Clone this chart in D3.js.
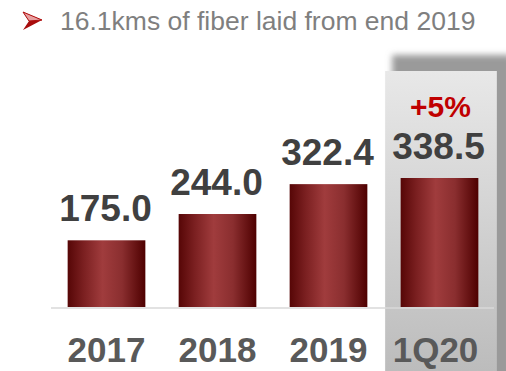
<!DOCTYPE html>
<html>
  <head>
    <meta charset="utf-8">
    <script src="https://d3js.org/d3.v7.min.js"></script>
    <style>
      body { margin: 0; background: #fff; }
      text { font-family: Arial, "Liberation Sans", sans-serif; }
    </style>
  </head>
  <body>
    <svg width="506" height="371"></svg>
    <script>
      // data
      var categories = ["2017", "2018", "2019", "1Q20"];
      var values = [175.0, 244.0, 322.4, 338.5];
      var valueLabels = ["175.0", "244.0", "322.4", "338.5"];
      var growthLabel = "+5%";
      var headline = "16.1kms of fiber laid from end 2019";

      var svg = d3.select("svg");
      var defs = svg.append("defs");

      // bar gradient, dark edges and lighter middle
      var bg = defs.append("linearGradient").attr("id", "barGrad")
        .attr("x1", "0%").attr("x2", "100%").attr("y1", "0%").attr("y2", "0%");
      bg.append("stop").attr("offset", "0%").attr("stop-color", "#560606");
      bg.append("stop").attr("offset", "20%").attr("stop-color", "#7a1f20");
      bg.append("stop").attr("offset", "45%").attr("stop-color", "#a03c3d");
      bg.append("stop").attr("offset", "70%").attr("stop-color", "#8a2e2f");
      bg.append("stop").attr("offset", "100%").attr("stop-color", "#4e0000");

      var pg = defs.append("linearGradient").attr("id", "panelGrad")
        .attr("x1", "0%").attr("x2", "0%").attr("y1", "0%").attr("y2", "100%");
      pg.append("stop").attr("offset", "0%").attr("stop-color", "#e8e8e8");
      pg.append("stop").attr("offset", "100%").attr("stop-color", "#bcbcbc");

      var blur = defs.append("filter").attr("id", "blur")
        .attr("x", "-20%").attr("y", "-20%").attr("width", "140%").attr("height", "140%");
      blur.append("feGaussianBlur").attr("stdDeviation", 3);

      var x = d3.scaleBand()
        .domain(categories)
        .range([51, 495])
        .paddingInner(0.3)
        .paddingOuter(0.15);

      var y = d3.scaleLinear()
        .domain([0, 338.5])
        .range([307, 178]);

      // headline with arrow bullet
      svg.append("path")
        .attr("d", "M23,12 L42,20 L23,30 L29,21 Z")
        .attr("fill", "#a80c0c");
      svg.append("path")
        .attr("d", "M23,12 L42,20 L29,21 Z")
        .attr("fill", "#e8a0a0")
        .attr("stroke", "#b01010").attr("stroke-width", 1);
      svg.append("text")
        .attr("x", 60).attr("y", 30)
        .attr("font-size", 26.5)
        .attr("fill", "#7f7f7f")
        .text(headline);

      // highlight panel for last category
      var last = categories[categories.length - 1];
      var px = x(last) - 15.5;
      var pw = x.bandwidth() + 34;
      svg.append("rect")
        .attr("x", px + 7).attr("y", 55)
        .attr("width", pw + 8).attr("height", 330)
        .attr("fill", "#9a9a9a")
        .attr("filter", "url(#blur)");
      svg.append("rect")
        .attr("x", px).attr("y", 71)
        .attr("width", pw).attr("height", 300)
        .attr("fill", "url(#panelGrad)");

      // baseline
      svg.append("line")
        .attr("x1", 51).attr("x2", 494)
        .attr("y1", 308).attr("y2", 308)
        .attr("stroke", "#d9d9d9").attr("stroke-width", 1.5);

      // bars
      svg.selectAll(".bar")
        .data(values)
        .enter().append("rect")
        .attr("class", "bar")
        .attr("x", function(d, i) { return x(categories[i]); })
        .attr("y", function(d) { return y(d); })
        .attr("width", x.bandwidth())
        .attr("height", function(d) { return y(0) - y(d); })
        .attr("fill", "url(#barGrad)");

      // value labels
      svg.selectAll(".val")
        .data(values)
        .enter().append("text")
        .attr("class", "val")
        .attr("x", function(d, i) { return x(categories[i]) + x.bandwidth() / 2 - 1; })
        .attr("y", function(d) { return y(d) - 19; })
        .attr("text-anchor", "middle")
        .attr("font-size", 37)
        .attr("font-weight", "bold")
        .attr("fill", "#404040")
        .text(function(d, i) { return valueLabels[i]; });

      // growth label
      svg.append("text")
        .attr("x", x(last) + x.bandwidth() / 2 + 1)
        .attr("y", 117)
        .attr("text-anchor", "middle")
        .attr("font-size", 30)
        .attr("font-weight", "bold")
        .attr("fill", "#c00000")
        .text(growthLabel);

      // category labels
      svg.selectAll(".cat")
        .data(categories)
        .enter().append("text")
        .attr("class", "cat")
        .attr("x", function(d) { return x(d) + x.bandwidth() / 2 - (d === last ? 4 : 0); })
        .attr("y", 362)
        .attr("text-anchor", "middle")
        .attr("font-size", 35)
        .attr("font-weight", "bold")
        .attr("fill", "#595959")
        .text(function(d) { return d; });
    </script>
  </body>
</html>
